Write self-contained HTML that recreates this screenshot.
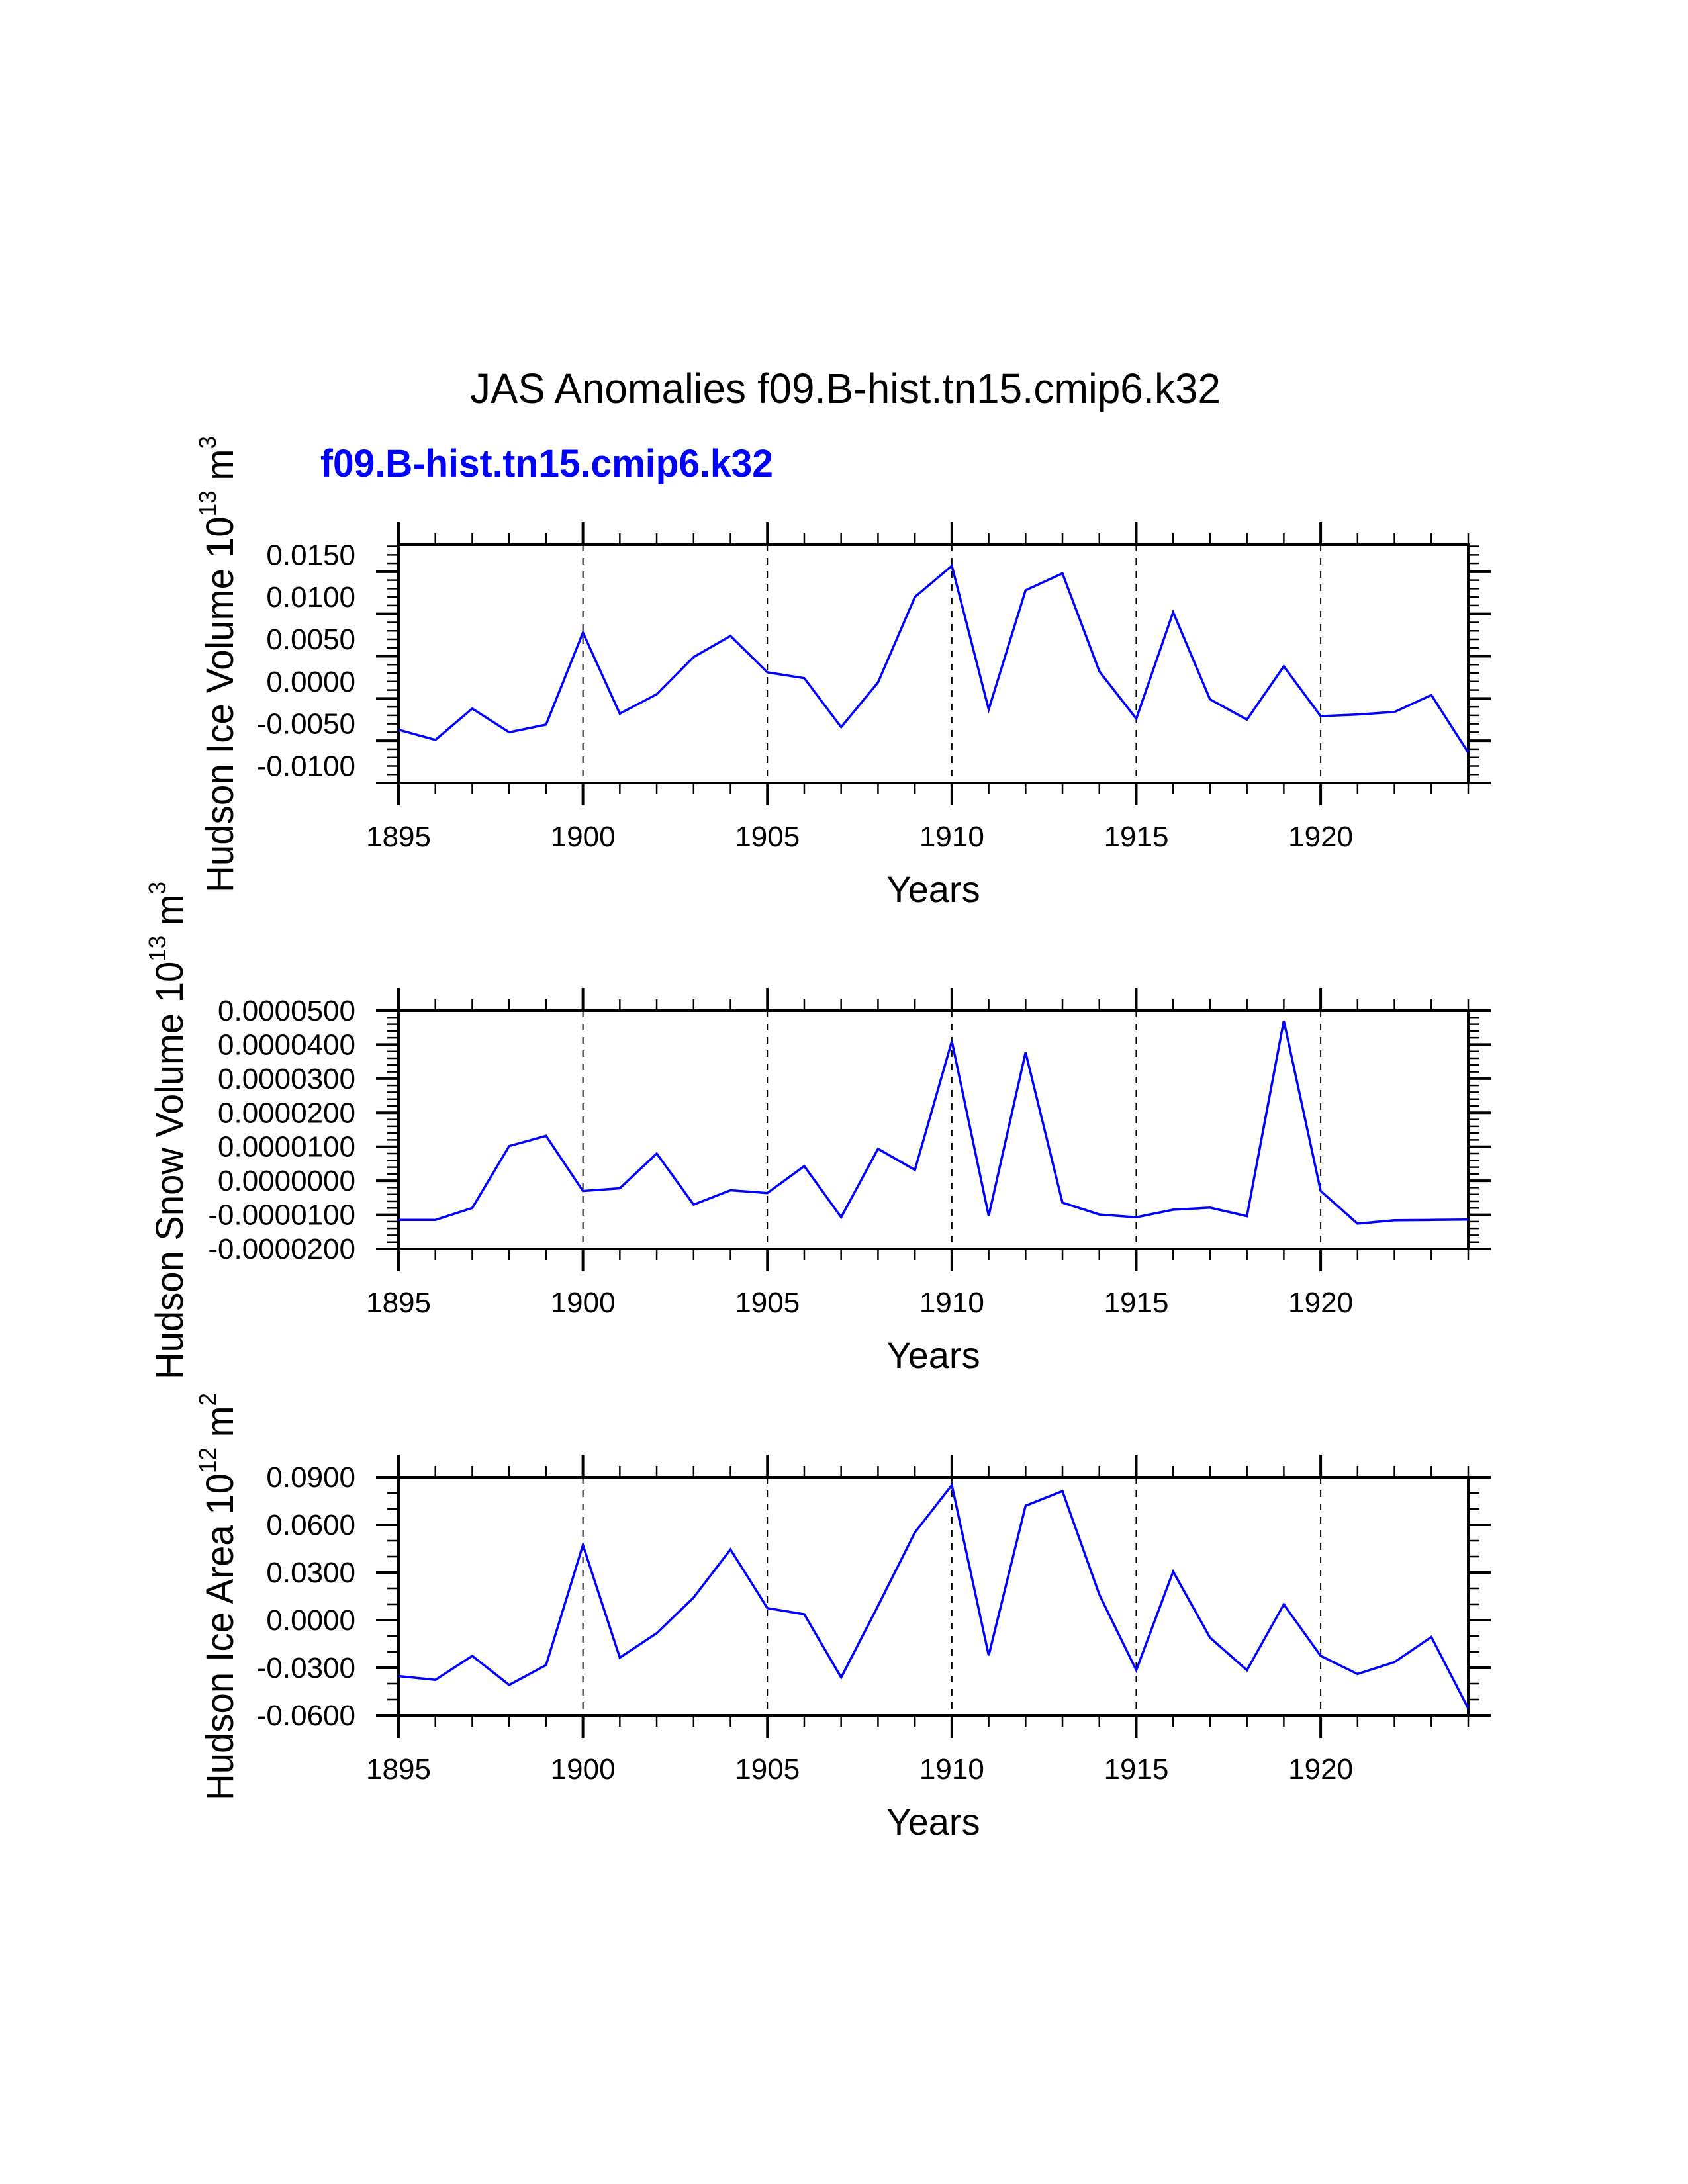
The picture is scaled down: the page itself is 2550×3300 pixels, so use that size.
<!DOCTYPE html>
<html><head><meta charset="utf-8"><style>
html,body{margin:0;padding:0;background:#fff;}
svg{display:block;}
text{font-family:"Liberation Sans",Arial,sans-serif;}
</style></head><body>
<svg id="chart" width="2550" height="3300" viewBox="0 0 2550 3300" xmlns="http://www.w3.org/2000/svg">
<rect width="2550" height="3300" fill="#fff"/>
<text x="1277" y="609" font-size="64" text-anchor="middle" textLength="1134" lengthAdjust="spacingAndGlyphs">JAS Anomalies f09.B-hist.tn15.cmip6.k32</text>
<text x="484" y="720" font-size="58" font-weight="bold" fill="#0000ff" textLength="684" lengthAdjust="spacingAndGlyphs">f09.B-hist.tn15.cmip6.k32</text>
<g id="panels"></g>
</svg>
<script>
const years = [1895,1896,1897,1898,1899,1900,1901,1902,1903,1904,1905,1906,1907,1908,1909,1910,1911,1912,1913,1914,1915,1916,1917,1918,1919,1920,1921,1922,1923,1924];
const iceVolume = [-0.0057,-0.0069,-0.0032,-0.0060,-0.0051,0.0058,-0.0038,-0.0015,0.0029,0.0054,0.0011,0.0004,-0.0054,-0.0001,0.0100,0.0137,-0.0033,0.0108,0.0128,0.0012,-0.0044,0.0082,-0.0021,-0.0045,0.0018,-0.0041,-0.0039,-0.0036,-0.0016,-0.0084];
const snowVolume = [-0.0000115,-0.0000115,-0.0000080,0.0000102,0.0000132,-0.0000030,-0.0000022,0.0000080,-0.0000070,-0.0000028,-0.0000036,0.0000043,-0.0000107,0.0000094,0.0000032,0.0000410,-0.0000103,0.0000377,-0.0000064,-0.0000099,-0.0000107,-0.0000085,-0.0000079,-0.0000104,0.0000470,-0.0000030,-0.0000126,-0.0000116,-0.0000115,-0.0000114];
const iceArea = [-0.0352,-0.0376,-0.0225,-0.0408,-0.0283,0.0473,-0.0236,-0.0082,0.0142,0.0445,0.0076,0.0037,-0.0361,0.0090,0.0552,0.0850,-0.0222,0.0720,0.0812,0.0160,-0.0315,0.0306,-0.0110,-0.0315,0.0099,-0.0225,-0.0339,-0.0264,-0.0106,-0.0556];
const xTickLabels = ["1895","1900","1905","1910","1915","1920"];
const iceVolTicks = ["0.0150","0.0100","0.0050","0.0000","-0.0050","-0.0100"];
const snowTicks = ["0.0000500","0.0000400","0.0000300","0.0000200","0.0000100","0.0000000","-0.0000100","-0.0000200"];
const areaTicks = ["0.0900","0.0600","0.0300","0.0000","-0.0300","-0.0600"];

const NS="http://www.w3.org/2000/svg";
const root=document.getElementById('panels');
function mk(tag,attrs,parent){const e=document.createElementNS(NS,tag);for(const k in attrs)e.setAttribute(k,attrs[k]);(parent||root).appendChild(e);return e;}

const X0=602,X1=2218,H=360;
const xScale=y=>X0+(y-1895)*(X1-X0)/(1924-1895);

function panel(cfg){
  const g=mk('g',{});
  
  
  const top=cfg.top,bot=top+H;
  const yS=v=>bot-(v-cfg.min)/(cfg.max-cfg.min)*H;
  // dashed grid
  for(let yr=1900;yr<=1920;yr+=5){
    const l=mk('line',{x1:xScale(yr),x2:xScale(yr),y1:top,y2:bot,stroke:'#000','stroke-width':2,'stroke-dasharray':'10,10'},g);
    
    
  }
  // x ticks
  for(let yr=1895;yr<=1924;yr++){
    const maj=(yr%5===0), len=maj?34:17, w=maj?4:2.5;
    const t1=mk('line',{x1:xScale(yr),x2:xScale(yr),y1:top,y2:top-len,stroke:'#000','stroke-width':w},g);
    
    
    const t2=mk('line',{x1:xScale(yr),x2:xScale(yr),y1:bot,y2:bot+len,stroke:'#000','stroke-width':w},g);
    
    
  }
  xTickLabels.forEach(s=>{
    const t=mk('text',{x:xScale(+s),y:bot+96,'font-size':44,'text-anchor':'middle'},g);
    t.textContent=s;
    
    
  });
  // y ticks
  const nMinor=Math.round((cfg.max-cfg.min)/cfg.minor);
  for(let i=0;i<=nMinor;i++){
    const v=cfg.min+i*cfg.minor;
    const r=(v-cfg.min)/cfg.major, maj=Math.abs(r-Math.round(r))<1e-6;
    const len=maj?34:17,w=maj?4:2.5,y=yS(v);
    const a=mk('line',{x1:X0,x2:X0-len,y1:y,y2:y,stroke:'#000','stroke-width':w},g);
    
    
    const b=mk('line',{x1:X1,x2:X1+len,y1:y,y2:y,stroke:'#000','stroke-width':w},g);
    
    
  }
  cfg.ticks.forEach(s=>{
    const t=mk('text',{x:537,y:yS(parseFloat(s))+15,'font-size':44,'text-anchor':'end'},g);
    t.textContent=s;
    
    
  });
  // frame
  const fr=mk('rect',{x:X0,y:top,width:X1-X0,height:H,fill:'none',stroke:'#000','stroke-width':4},g);
  
  
  // series
  const pts=years.map((yr,i)=>xScale(yr).toFixed(1)+','+yS(cfg.data[i]).toFixed(1)).join(' ');
  const pl=mk('polyline',{points:pts,fill:'none',stroke:'#0000ff','stroke-width':3.5,'stroke-linejoin':'miter'},g);
  
  
  // x title
  const xt=mk('text',{x:1410,y:bot+180,'font-size':56,'text-anchor':'middle'},g);
  xt.textContent='Years';
  
  
  // y title
  const yt=mk('text',{transform:`translate(${cfg.tx},${cfg.tc}) rotate(-90)`,'font-size':58,'text-anchor':'middle',textLength:cfg.tlen,lengthAdjust:'spacingAndGlyphs'},g);
  
  
  const s1=mk('tspan',{},yt); s1.textContent=cfg.title+' 10';
  const s2=mk('tspan',{dy:-26,'font-size':36},yt); s2.textContent=cfg.exp;
  const s3=mk('tspan',{dy:26},yt); s3.textContent=' m';
  const s4=mk('tspan',{dy:-26,'font-size':36},yt); s4.textContent=cfg.unitExp;
}

panel({name:'ice-volume',top:823,min:-0.012,max:0.0162,major:0.005,minor:0.001,ticks:iceVolTicks,data:iceVolume,title:'Hudson Ice Volume',exp:'13',unitExp:'3',tx:352,tc:1004,tlen:690});
panel({name:'snow-volume',top:1527,min:-0.00002,max:0.00005,major:0.00001,minor:0.000002,ticks:snowTicks,data:snowVolume,title:'Hudson Snow Volume',exp:'13',unitExp:'3',tx:276,tc:1708,tlen:752});
panel({name:'ice-area',top:2232,min:-0.06,max:0.09,major:0.03,minor:0.01,ticks:areaTicks,data:iceArea,title:'Hudson Ice Area',exp:'12',unitExp:'2',tx:352,tc:2413,tlen:616});
</script>
</body></html>
